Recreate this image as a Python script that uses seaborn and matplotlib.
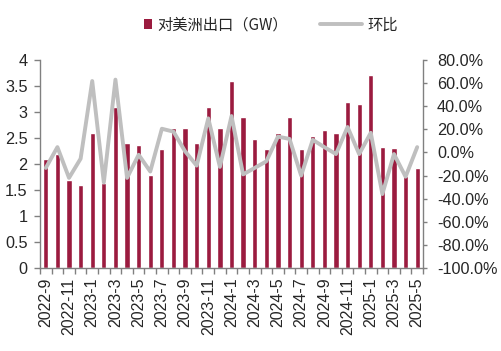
import numpy as np
import pandas as pd
import matplotlib
matplotlib.use('Agg')
import matplotlib.pyplot as plt
import seaborn as sns
from matplotlib.lines import Line2D
from matplotlib.patches import Patch
from matplotlib.ticker import FixedLocator

# Data
months = ['2022-9', '2022-10', '2022-11', '2022-12',
          '2023-1', '2023-2', '2023-3', '2023-4', '2023-5', '2023-6',
          '2023-7', '2023-8', '2023-9', '2023-10', '2023-11', '2023-12',
          '2024-1', '2024-2', '2024-3', '2024-4', '2024-5', '2024-6',
          '2024-7', '2024-8', '2024-9', '2024-10', '2024-11', '2024-12',
          '2025-1', '2025-2', '2025-3', '2025-4', '2025-5']
exports_gw = [2.10, 2.19, 1.69, 1.60,
              2.60, 1.63, 3.10, 2.41, 2.37, 1.78,
              2.29, 2.69, 2.69, 2.41, 3.10, 2.69,
              3.60, 2.90, 2.49, 2.29, 2.59, 2.90,
              2.29, 2.54, 2.65, 2.60, 3.20, 3.16,
              3.72, 2.33, 2.31, 1.76, 1.93]
mom_pct = [-13.4, 4.6, -22.0, -5.4,
           61.8, -26.0, 63.0, -22.0, -2.0, -16.5,
           20.5, 18.0, 1.0, -11.4, 29.5, -12.5,
           31.5, -19.0, -13.4, -7.7, 13.7, 11.7,
           -20.0, 10.9, 4.6, -1.4, 22.0, -1.4,
           17.0, -36.0, -1.4, -21.0, 4.6]

bar_label = '对美洲出口（GW）'
line_label = '环比'

df = pd.DataFrame({'month': months, 'exports': exports_gw, 'mom': mom_pct})
df['pos'] = np.arange(len(df))

bar_color = '#9B1B3F'
line_color = '#BFBFBF'
axis_color = '#808080'

sns.set_style('white')
plt.rcParams['font.family'] = ['Liberation Sans', 'Noto Sans CJK SC', 'DejaVu Sans']

fig = plt.figure(figsize=(5.02, 3.51), dpi=100)
ax = fig.add_axes([40 / 502, 1 - 268 / 351, 383 / 502, 208 / 351])

sns.barplot(data=df, x='month', y='exports', color=bar_color, width=0.45,
            saturation=1, ax=ax)
ax.set_ylim(0, 4)
ax.set_xlim(-0.5, len(df) - 0.5)

ax2 = ax.twinx()
sns.lineplot(data=df, x='pos', y='mom', color=line_color, linewidth=2.8, ax=ax2)
ax2.set_ylim(-100, 80)
ax2.set_xlim(-0.5, len(df) - 0.5)

# left axis
yt = np.arange(0, 4.01, 0.5)
ax.set_yticks(yt)
ax.set_yticklabels([f'{v:g}' for v in yt], fontsize=11.7)
ax.set_xlabel('')
ax.set_ylabel('')

# right axis
yt2 = np.arange(-100, 81, 20)
ax2.set_yticks(yt2)
ax2.set_yticklabels([f'{v:.1f}%' for v in yt2], fontsize=11.7)
ax2.set_xlabel('')
ax2.set_ylabel('')

# x axis: labels every other month, tick marks at category boundaries
ax.set_xticks(df['pos'][::2])
ax.set_xticklabels(df['month'][::2], rotation=90, fontsize=11.5)
ax.xaxis.set_minor_locator(FixedLocator(np.arange(-0.5, len(df), 1)))
ax.tick_params(axis='x', which='major', length=0, pad=7)
ax.tick_params(axis='x', which='minor', length=4, width=1, color=axis_color,
               direction='out', bottom=True)
ax.tick_params(axis='y', length=4, width=1, color=axis_color, direction='out',
               left=True, pad=5)
ax2.tick_params(axis='y', length=3, width=1, color=axis_color, direction='out',
                right=True, pad=7)

for a in (ax, ax2):
    a.spines['top'].set_visible(False)
    for s in ('left', 'right', 'bottom'):
        a.spines[s].set_color(axis_color)
        a.spines[s].set_linewidth(1)
ax.spines['right'].set_visible(False)
ax2.spines['left'].set_visible(False)
ax2.spines['bottom'].set_visible(False)

# legend (two parts to get a short box and a long line)
cjk = ['Noto Sans CJK SC', 'DejaVu Sans']
fig.legend(handles=[Patch(facecolor=bar_color, edgecolor='none')],
           labels=[bar_label], loc='center left',
           bbox_to_anchor=(144 / 502, 1 - 25 / 351), frameon=False,
           handlelength=0.5, handleheight=0.55, handletextpad=0.35,
           borderpad=0, borderaxespad=0, prop={'family': cjk, 'size': 11})
fig.legend(handles=[Line2D([], [], color=line_color, linewidth=2.8)],
           labels=[line_label], loc='center left',
           bbox_to_anchor=(320 / 502, 1 - 25 / 351), frameon=False,
           handlelength=2.75, handletextpad=0.35,
           borderpad=0, borderaxespad=0, prop={'family': cjk, 'size': 11})

fig.savefig('out.png', dpi=100)
